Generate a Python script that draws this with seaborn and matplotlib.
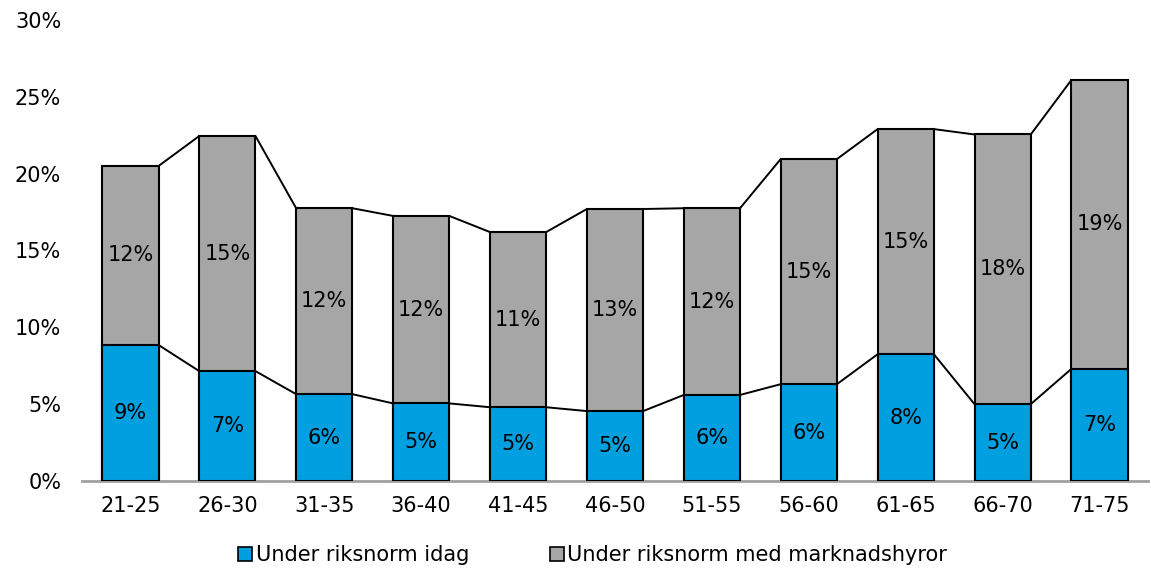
import matplotlib
matplotlib.use("Agg")
import matplotlib.pyplot as plt
import seaborn as sns
import pandas as pd
from matplotlib.ticker import PercentFormatter
from matplotlib.lines import Line2D

# data (percent)
alder = ["21-25", "26-30", "31-35", "36-40", "41-45", "46-50",
         "51-55", "56-60", "61-65", "66-70", "71-75"]
idag = [8.85, 7.15, 5.65, 5.05, 4.8, 4.55, 5.6, 6.3, 8.25, 5.0, 7.3]
marknad = [11.65, 15.3, 12.1, 12.2, 11.4, 13.15, 12.15, 14.65, 14.65, 17.55, 18.8]

blue = "#009FE0"
grey = "#A6A6A6"

df = pd.DataFrame({"alder": alder, "idag": idag, "marknad": marknad})
df["total"] = df["idag"] + df["marknad"]

sns.set_style("white")
plt.rcParams["font.family"] = ["DejaVu Sans"]
plt.rcParams["text.color"] = "black"
plt.rcParams["xtick.color"] = "black"
plt.rcParams["ytick.color"] = "black"

fig = plt.figure(figsize=(11.51, 5.71), dpi=100)
ax = fig.add_axes([82 / 1151, 90 / 571, 1066 / 1151, 461 / 571])

w = 0.58
sns.barplot(data=df, x="alder", y="total", color=grey, width=w, saturation=1,
            edgecolor="black", linewidth=1.5, ax=ax, zorder=2)
sns.barplot(data=df, x="alder", y="idag", color=blue, width=w, saturation=1,
            edgecolor="black", linewidth=1.5, ax=ax, zorder=3)

# series lines between bars
for col in ["idag", "total"]:
    vals = df[col].tolist()
    for i in range(len(vals) - 1):
        ax.plot([i + w / 2, i + 1 - w / 2], [vals[i], vals[i + 1]],
                color="black", lw=1.4, zorder=1)

# data labels
for i, r in df.iterrows():
    ax.text(i, r["idag"] / 2, f"{round(r['idag']):.0f}%", ha="center", va="center",
            fontsize=15, color="black", zorder=4)
    ax.text(i, r["idag"] + r["marknad"] / 2, f"{round(r['marknad']):.0f}%",
            ha="center", va="center", fontsize=15, color="black", zorder=4)

ax.set_ylim(0, 30)
ax.set_xlim(-0.5, len(alder) - 0.5)
ax.set_yticks(range(0, 31, 5))
ax.yaxis.set_major_formatter(PercentFormatter(decimals=0))
ax.set_xlabel("")
ax.set_ylabel("")
ax.tick_params(axis="both", length=0, labelsize=15, labelcolor="black")
ax.tick_params(axis="x", pad=11)
ax.tick_params(axis="y", pad=15)
for s in ["top", "right", "left"]:
    ax.spines[s].set_visible(False)
ax.spines["bottom"].set_color("#A0A0A0")
ax.spines["bottom"].set_linewidth(2)

handles = [
    Line2D([], [], marker="s", ls="none", markersize=10, markerfacecolor=blue,
           markeredgecolor="black", markeredgewidth=1.2),
    Line2D([], [], marker="s", ls="none", markersize=10, markerfacecolor=grey,
           markeredgecolor="black", markeredgewidth=1.2),
]
fig.legend(handles, ["Under riksnorm idag", "Under riksnorm med marknadshyror"],
           loc="center", bbox_to_anchor=(592 / 1151, 16 / 571), ncol=2,
           frameon=False, fontsize=15, handletextpad=0.1, columnspacing=3.8,
           handlelength=0.8)

fig.savefig("out.png", dpi=100)
